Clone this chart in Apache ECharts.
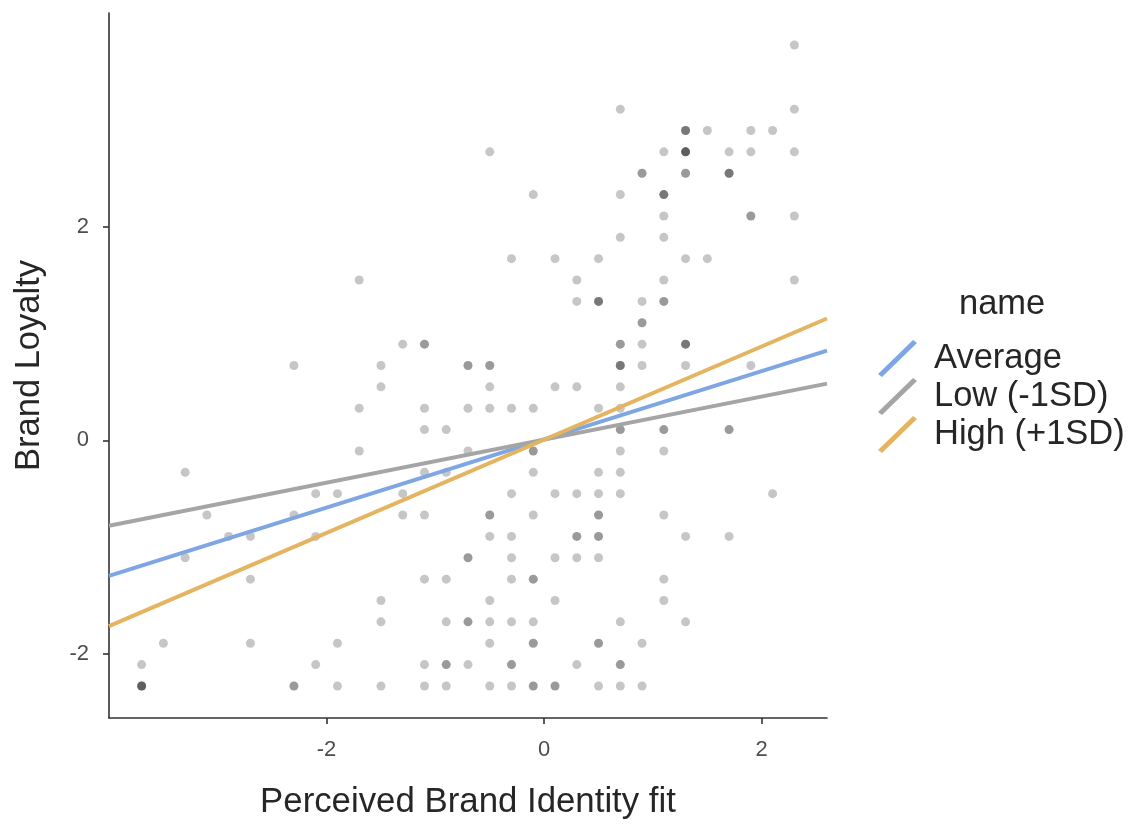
<!DOCTYPE html>
<html>
<head>
<meta charset="utf-8">
<script src="https://cdn.jsdelivr.net/npm/echarts@6/dist/echarts.min.js"></script>
<style>html,body{margin:0;padding:0;background:#fff}#c{width:1134px;height:825px}</style>
</head>
<body>
<div id="c"></div>
<script>
// Scatter points: x, y, number of overlapping observations
const ptX = [
  2.3,
  0.7, 2.3,
  1.3, 1.5, 1.9, 2.1,
  -0.5, 1.1, 1.3, 1.7, 1.9, 2.3,
  0.9, 1.3, 1.7,
  -0.1, 0.7, 1.1,
  1.1, 1.9, 2.3,
  0.7, 1.1,
  -0.3, 0.1, 0.5, 1.3, 1.5,
  -1.7, 0.3, 1.1, 2.3,
  0.3, 0.5, 0.9, 1.1,
  0.9,
  -1.3, -1.1, 0.7, 0.9, 1.3,
  -2.3, -1.5, -0.7, -0.5, 0.7, 0.9, 1.3, 1.9,
  -1.5, -0.5, 0.1, 0.3, 0.7,
  -1.7, -1.1, -0.7, -0.5, -0.3, -0.1, 0.5, 0.7,
  -1.1, -0.9, 0.7, 1.1, 1.7,
  -1.7, -0.7, -0.1, 0.7, 1.1,
  -3.3, -1.1, -0.9, -0.1, 0.5, 0.7,
  -2.1, -1.9, -1.3, -0.3, 0.1, 0.3, 0.5, 0.7, 2.1,
  -3.1, -2.3, -1.3, -1.1, -0.5, -0.1, 0.5, 1.1,
  -2.9, -2.7, -2.1, -0.5, -0.3, 0.3, 0.5, 1.3, 1.7,
  -3.3, -0.7, -0.3, 0.1, 0.3, 0.5,
  -2.7, -1.1, -0.9, -0.3, -0.1, 1.1,
  -1.5, -0.5, 0.1, 1.1,
  -1.5, -0.9, -0.7, -0.5, -0.3, -0.1, 0.7, 1.3,
  -3.5, -2.7, -1.9, -0.5, -0.1, 0.5, 0.9,
  -3.7, -2.1, -1.1, -0.9, -0.7, -0.3, 0.3, 0.7,
  -3.7, -2.3, -1.9, -1.5, -1.1, -0.9, -0.5, -0.3, -0.1, 0.1, 0.5, 0.7, 0.9
];
const ptY = [
  3.7,
  3.1, 3.1,
  2.9, 2.9, 2.9, 2.9,
  2.7, 2.7, 2.7, 2.7, 2.7, 2.7,
  2.5, 2.5, 2.5,
  2.3, 2.3, 2.3,
  2.1, 2.1, 2.1,
  1.9, 1.9,
  1.7, 1.7, 1.7, 1.7, 1.7,
  1.5, 1.5, 1.5, 1.5,
  1.3, 1.3, 1.3, 1.3,
  1.1,
  0.9, 0.9, 0.9, 0.9, 0.9,
  0.7, 0.7, 0.7, 0.7, 0.7, 0.7, 0.7, 0.7,
  0.5, 0.5, 0.5, 0.5, 0.5,
  0.3, 0.3, 0.3, 0.3, 0.3, 0.3, 0.3, 0.3,
  0.1, 0.1, 0.1, 0.1, 0.1,
  -0.1, -0.1, -0.1, -0.1, -0.1,
  -0.3, -0.3, -0.3, -0.3, -0.3, -0.3,
  -0.5, -0.5, -0.5, -0.5, -0.5, -0.5, -0.5, -0.5, -0.5,
  -0.7, -0.7, -0.7, -0.7, -0.7, -0.7, -0.7, -0.7,
  -0.9, -0.9, -0.9, -0.9, -0.9, -0.9, -0.9, -0.9, -0.9,
  -1.1, -1.1, -1.1, -1.1, -1.1, -1.1,
  -1.3, -1.3, -1.3, -1.3, -1.3, -1.3,
  -1.5, -1.5, -1.5, -1.5,
  -1.7, -1.7, -1.7, -1.7, -1.7, -1.7, -1.7, -1.7,
  -1.9, -1.9, -1.9, -1.9, -1.9, -1.9, -1.9,
  -2.1, -2.1, -2.1, -2.1, -2.1, -2.1, -2.1, -2.1,
  -2.3, -2.3, -2.3, -2.3, -2.3, -2.3, -2.3, -2.3, -2.3, -2.3, -2.3, -2.3, -2.3
];
const ptN = [
  1,
  1, 1,
  3, 1, 1, 1,
  1, 1, 4, 1, 1, 1,
  2, 2, 3,
  1, 1, 3,
  1, 2, 1,
  1, 1,
  1, 1, 1, 1, 1,
  1, 1, 1, 1,
  1, 3, 1, 2,
  2,
  1, 2, 2, 1, 3,
  1, 1, 2, 2, 3, 1, 1, 1,
  1, 1, 1, 1, 1,
  1, 1, 1, 1, 1, 1, 1, 1,
  1, 1, 2, 2, 2,
  1, 1, 2, 1, 1,
  1, 1, 1, 1, 1, 1,
  1, 1, 1, 1, 1, 1, 1, 1, 1,
  1, 1, 1, 1, 2, 1, 2, 1,
  1, 1, 1, 1, 1, 2, 2, 1, 1,
  1, 2, 1, 1, 1, 1,
  1, 1, 1, 1, 2, 1,
  1, 1, 1, 1,
  1, 1, 2, 1, 1, 1, 1, 1,
  1, 1, 1, 1, 2, 2, 1,
  1, 1, 1, 2, 1, 2, 1, 2,
  4, 2, 1, 1, 1, 1, 1, 1, 2, 2, 1, 1, 1
];

// Regression lines (end points)
const lineNames = ['Average', 'Low (-1SD)', 'High (+1SD)'];
const lineColors = ['#7ea6e3', '#a5a5a5', '#e5b460'];
const lineX = [-4.0, 2.6];
const avgY = [-1.27, 0.84];
const lowY = [-0.80, 0.53];
const highY = [-1.74, 1.14];

const xTicks = [-2, 0, 2];
const yTicks = [-2, 0, 2];

const scatterData = [];
for (let i = 0; i < ptX.length; i++) {
  for (let k = 0; k < ptN[i]; k++) scatterData.push([ptX[i], ptY[i]]);
}
const mkLine = (ys) => lineX.map((x, i) => [x, ys[i]]);
const lineYs = [avgY, lowY, highY];

const FONT = 'Liberation Sans';
const TXT = '#262626';
const chart = echarts.init(document.getElementById('c'), null, { renderer: 'canvas' });
const iconPath = 'path://M0,34 L35,0 L39,3 L4,37 Z';

chart.setOption({
  animation: false,
  textStyle: { fontFamily: FONT },
  grid: { left: 109, right: 307, top: 13, bottom: 104, containLabel: false },
  title: {
    text: 'name', left: 959, top: 287, padding: 0,
    textStyle: { fontFamily: FONT, fontSize: 34.5, fontWeight: 'normal', color: TXT }
  },
  legend: {
    orient: 'vertical', left: 878, top: 340, padding: 0,
    itemWidth: 39, itemHeight: 37, itemGap: 1,
    data: lineNames.map((n) => ({ name: n, icon: iconPath })),
    textStyle: { fontFamily: FONT, fontSize: 34.5, color: TXT, padding: [0, 0, 0, 12] },
    selectedMode: false
  },
  xAxis: {
    type: 'value', min: -4.0, max: 2.6,
    name: 'Perceived Brand Identity fit', nameLocation: 'middle', nameGap: 67,
    nameTextStyle: { fontFamily: FONT, fontSize: 34.8, color: TXT },
    axisLine: { show: true, onZero: false, lineStyle: { color: '#333', width: 1.6 } },
    axisTick: { show: true, length: 6, customValues: xTicks, lineStyle: { color: '#333', width: 1.6 } },
    axisLabel: { customValues: xTicks, margin: 21, fontFamily: FONT, fontSize: 22, color: '#4d4d4d' },
    splitLine: { show: false }
  },
  yAxis: {
    type: 'value', min: -2.6, max: 4.0,
    name: 'Brand Loyalty', nameLocation: 'middle', nameGap: 62,
    nameTextStyle: { fontFamily: FONT, fontSize: 34.5, color: TXT },
    axisLine: { show: true, onZero: false, lineStyle: { color: '#333', width: 1.6 } },
    axisTick: { show: true, length: 6, customValues: yTicks, lineStyle: { color: '#333', width: 1.6 } },
    axisLabel: { customValues: yTicks, margin: 20, fontFamily: FONT, fontSize: 22, color: '#4d4d4d' },
    splitLine: { show: false }
  },
  series: [
    {
      type: 'scatter', data: scatterData, symbolSize: 9,
      itemStyle: { color: 'rgba(0,0,0,0.28)' },
      emphasis: { disabled: true }, silent: true, z: 1
    }
  ].concat(lineNames.map((n, i) => ({
    type: 'line', name: n, data: mkLine(lineYs[i]), symbol: 'none',
    lineStyle: { color: lineColors[i], width: 4 },
    itemStyle: { color: lineColors[i] },
    emphasis: { disabled: true }, silent: true, z: 2
  })))
});
</script>
</body>
</html>
